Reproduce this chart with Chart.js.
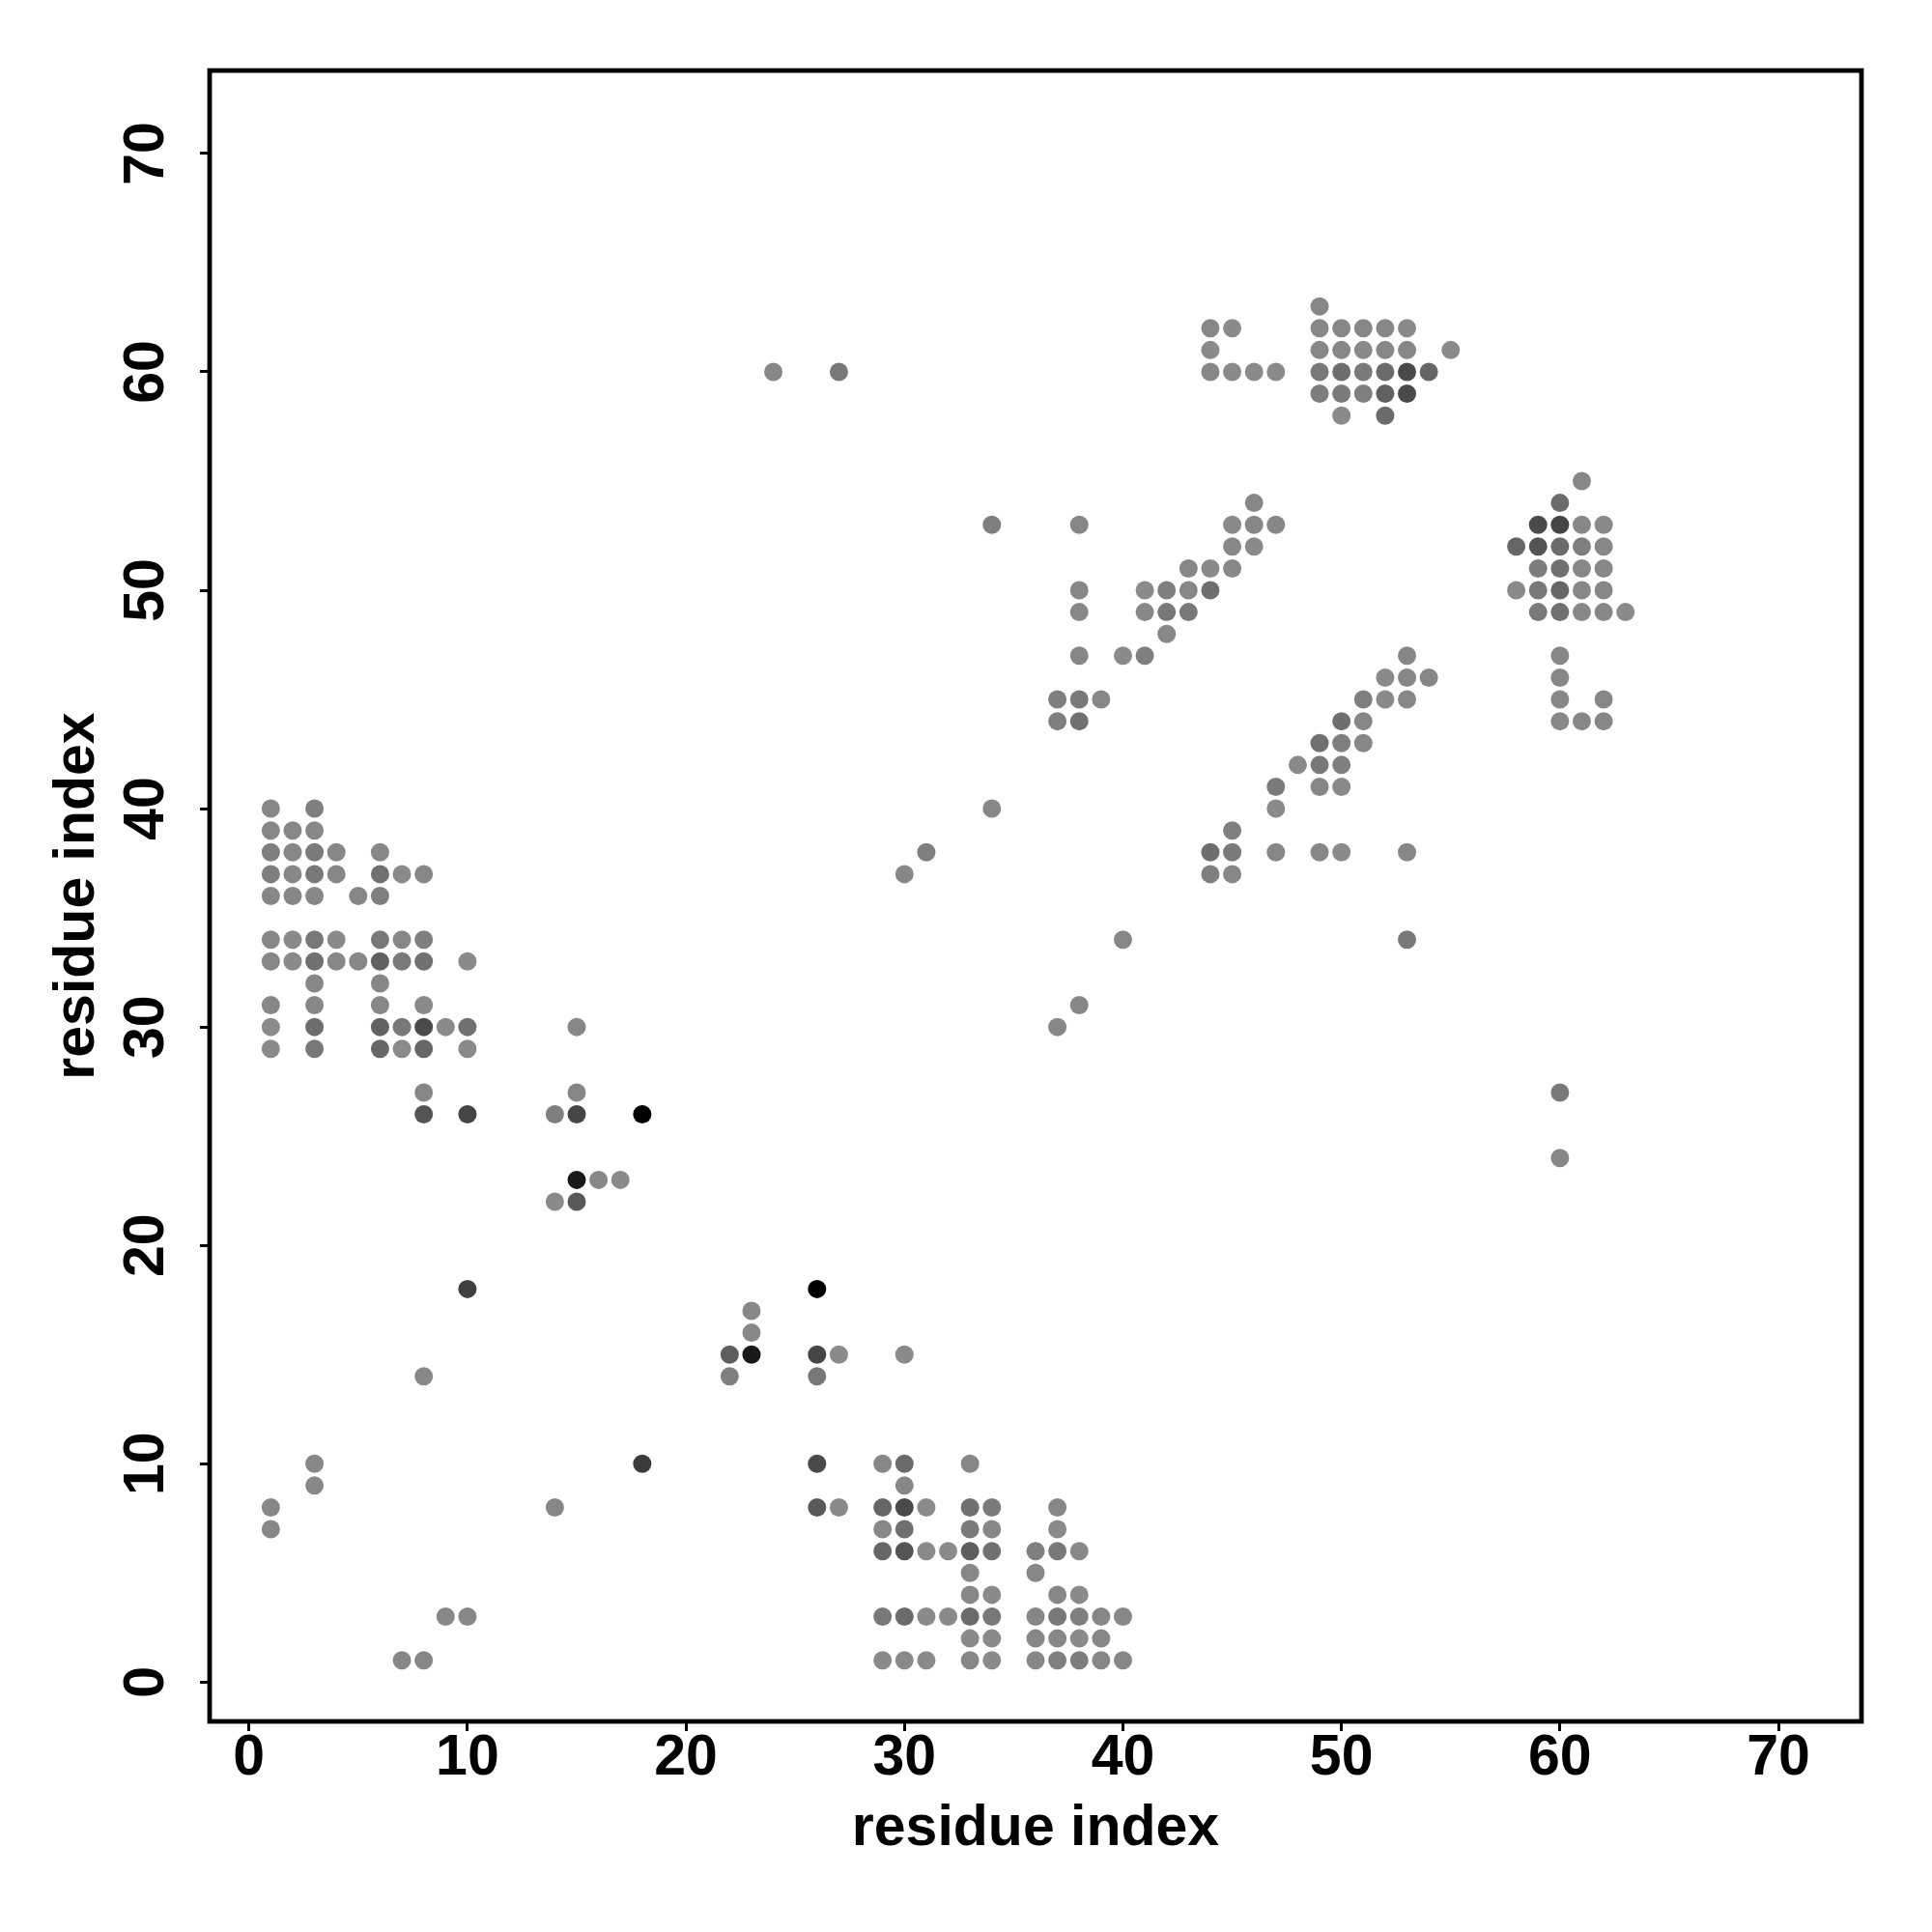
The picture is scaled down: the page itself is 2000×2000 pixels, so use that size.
<!DOCTYPE html>
<html><head><meta charset="utf-8">
<script src="https://cdn.jsdelivr.net/npm/chart.js@4/dist/chart.umd.min.js"></script>
<style>html,body{margin:0;padding:0;background:#fff}</style>
</head><body>
<canvas id="c" width="2000" height="2000"></canvas>
<script>
// residue pairs (i, j) and contact probability for each drawn point
const residueI = [
  1,3, 1,2,3, 1,2,3,4,6, 1,2,3,4,6,7,8, 1,2,3,5,6, 1,2,3,4,6,7,8,
  1,2,3,4,5,6,7,8,10, 3,6, 1,3,6,8, 1,3,6,7,8,9,10, 1,3,6,7,8,10, 8,8,10,10,
  15,15,14,15,18,15,16,17,14,15,
  26,23,23,22,23,26,27,30,22,26,
  8,3,3,1,1,14,18,26,26,27,9,10,7,8,
  29,30,33,30, 29,30,31,33,34,37, 29,30,33,34,37, 29,30,31,32,33,34,36,37,38,
  33,36,33,34,37,38, 29,30,31,32,33,34,36,37,38,39,40, 33,34,36,37,38,39,
  29,30,31,33,34,36,37,38,39,40,
  24,27,49, 44,45,49,50,51,52,53, 44,49,50,51,52,53,55, 44,45,46,47,49,50,51,52,53,54,
  49,50,51,52,53,50,52,
  34,46,38,45,46,47,45,46, 43,44,45,38,41,42,43,44, 38,41,42,43,42,38,40,41,
  37,38,39,37,38, 34,30,31,40,37,38,
  53,52,53,54,51,52,53, 50,51,49,50,51,48,49,50, 47,49,50,47,45,
  44,45,47,49,50,53,44,45,53,
  61,60,59,60,61,62, 58,59,60,61,62,59,60,61,62, 58,59,60,61,62,59,60,61,62,63,
  60,60,60,62,60,61,62,60,60
];
const residueJ = [
  40,40, 39,39,39, 38,38,38,38,38, 37,37,37,37,37,37,37, 36,36,36,36,36, 34,34,34,34,34,34,34,
  33,33,33,33,33,33,33,33,33, 32,32, 31,31,31,31, 30,30,30,30,30,30,30, 29,29,29,29,29,29, 27,26,26,18,
  30,27,26,26,26,23,23,23,22,22,
  18,17,16,15,15,15,15,15,14,14,
  14,10,9,8,7,8,10,10,8,8,3,3,1,1,
  10,10,10,9, 8,8,8,8,8,8, 7,7,7,7,7, 6,6,6,6,6,6,6,6,6,
  5,5,4,4,4,4, 3,3,3,3,3,3,3,3,3,3,3, 2,2,2,2,2,2,
  1,1,1,1,1,1,1,1,1,1,
  60,60,63, 62,62,62,62,62,62,62, 61,61,61,61,61,61,61, 60,60,60,60,60,60,60,60,60,60,
  59,59,59,59,59,58,58,
  53,54,53,53,53,53,52,52, 51,51,51,50,50,50,50,50, 49,49,49,49,48,47,47,47,
  45,45,45,44,44, 40,37,38,34,30,31,
  47,46,46,46,45,45,45, 44,44,43,43,43,42,42,42, 41,41,41,40,39,
  38,38,38,38,38,38,37,37,34,
  55,54,53,53,53,53, 52,52,52,52,52,51,51,51,51, 50,50,50,50,50,49,49,49,49,49,
  47,46,45,45,44,44,44,27,24
];
const contactProb = [
  .47,.50, .47,.47,.47, .50,.47,.52,.47,.47, .50,.47,.53,.47,.56,.46,.47, .47,.47,.47,.47,.50, .47,.46,.53,.46,.53,.47,.50,
  .47,.46,.56,.47,.47,.62,.52,.56,.46, .47,.47, .47,.47,.47,.46, .46,.57,.62,.53,.71,.46,.56, .46,.53,.60,.46,.60,.46, .47,.67,.73,.75,
  .47,.47,.50,.73,1,.90,.47,.46,.46,.65,
  1,.47,.47,.63,.90,.73,.46,.46,.50,.53,
  .47,.47,.47,.47,.47,.47,.77,.71,.65,.46,.47,.47,.47,.47,
  .47,.58,.47,.47, .60,.71,.46,.56,.52,.47, .47,.56,.52,.47,.46, .60,.67,.46,.46,.63,.56,.50,.53,.47,
  .47,.47,.47,.46,.47,.46, .53,.58,.46,.46,.58,.53,.47,.53,.50,.47,.47, .46,.46,.47,.47,.46,.47,
  .46,.46,.46,.47,.46,.47,.50,.51,.47,.47,
  .47,.53,.47, .47,.46,.47,.47,.47,.47,.46, .46,.47,.47,.46,.47,.47,.46, .47,.46,.46,.46,.53,.57,.52,.58,.71,.60,
  .51,.52,.50,.62,.71,.46,.58,
  .50,.47,.47,.46,.47,.47,.47,.46, .47,.46,.47,.47,.46,.50,.47,.57, .47,.47,.53,.53,.47,.47,.46,.50,
  .50,.53,.47,.50,.56, .47,.47,.50,.47,.47,.47,
  .47,.46,.47,.47,.50,.46,.47, .57,.47,.56,.50,.47,.46,.53,.50, .52,.47,.46,.46,.50,
  .57,.52,.47,.47,.46,.47,.50,.47,.53,
  .47,.58,.71,.73,.47,.46, .60,.67,.58,.50,.47,.51,.56,.47,.47, .46,.53,.60,.47,.47,.52,.56,.47,.47,.46,
  .47,.47,.47,.47,.47,.47,.47,.52,.47
];
const tickValues = [0, 10, 20, 30, 40, 50, 60, 70];
const xTitle = 'residue index';
const yTitle = 'residue index';

const FONT = '"Liberation Sans", Arial, Helvetica, sans-serif';

const framePlugin = {
  id: 'frame',
  afterDraw(chart) {
    const {ctx, chartArea: a} = chart;
    ctx.save();
    ctx.strokeStyle = '#000';
    ctx.lineWidth = 4.8;
    ctx.strokeRect(a.left, a.top, a.right - a.left, a.bottom - a.top);
    ctx.restore();
  }
};

const points = residueI.map((x, k) => ({x: x, y: residueJ[k]}));
const colors = contactProb.map(p => `rgba(0,0,0,${p})`);

const gridOpts = {display: true, drawOnChartArea: false, drawTicks: true, tickLength: 10, tickWidth: 3, tickColor: '#000', color: '#000'};

new Chart(document.getElementById('c'), {
  type: 'scatter',
  data: {datasets: [{data: points, backgroundColor: colors, borderWidth: 0, pointRadius: 9.5, pointHoverRadius: 9.5}]},
  options: {
    responsive: false, animation: false, devicePixelRatio: 1,
    layout: {padding: {top: 73, right: 73, left: 0, bottom: 0}},
    plugins: {legend: {display: false}, tooltip: {enabled: false}},
    scales: {
      x: {
        type: 'linear', position: 'bottom', min: -1.8, max: 73.8,
        afterBuildTicks: s => { s.ticks = tickValues.map(v => ({value: v})); },
        afterFit: s => { s.height = 218; },
        grid: gridOpts,
        border: {display: false},
        ticks: {color: '#000', autoSkip: false, minRotation: 0, maxRotation: 0, padding: -0.5,
          font: {family: FONT, size: 59, weight: 'bold', lineHeight: 1}},
        title: {display: true, text: xTitle, color: '#000', padding: {top: 0, bottom: 71},
          font: {family: FONT, size: 59, weight: 'bold', lineHeight: 1.2}}
      },
      y: {
        type: 'linear', position: 'left', min: -1.8, max: 73.8,
        afterBuildTicks: s => { s.ticks = tickValues.map(v => ({value: v})); },
        afterFit: s => { s.width = 217; },
        grid: gridOpts,
        border: {display: false},
        ticks: {color: '#000', autoSkip: false, minRotation: 90, maxRotation: 90, crossAlign: 'center', padding: 21,
          font: {family: FONT, size: 59, weight: 'bold', lineHeight: 1}},
        title: {display: true, text: yTitle, color: '#000', padding: {top: 45, bottom: 0},
          font: {family: FONT, size: 59, weight: 'bold', lineHeight: 1.2}}
      }
    }
  },
  plugins: [framePlugin]
});
</script>
</body></html>
